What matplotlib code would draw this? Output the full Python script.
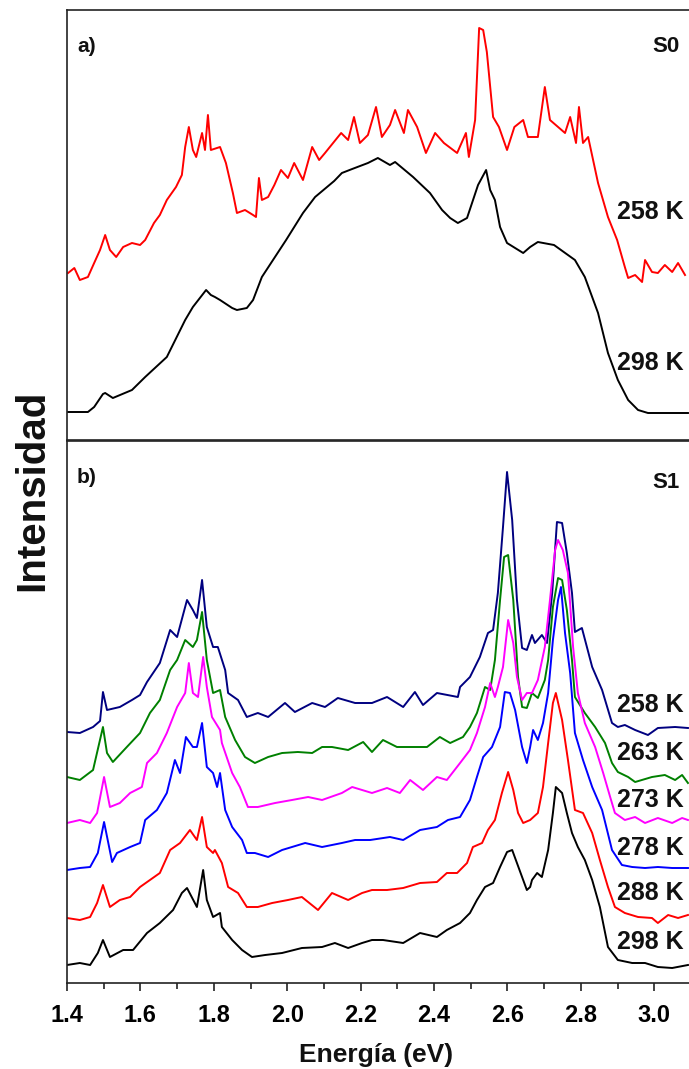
import matplotlib
matplotlib.use("Agg")
import matplotlib.pyplot as plt
from matplotlib.ticker import MultipleLocator
import numpy as np

# ---------------- Data ----------------
# Panel a) S0
a_298_E = [1.403, 1.457, 1.474, 1.498, 1.504, 1.525, 1.577, 1.613, 1.672, 1.722, 1.743, 1.779, 1.792,
           1.803, 1.817, 1.850, 1.863, 1.890, 1.907, 1.931, 1.997, 2.043, 2.076, 2.128, 2.149, 2.177,
           2.220, 2.247, 2.280, 2.294, 2.343, 2.389, 2.422, 2.444, 2.465, 2.490, 2.520, 2.542, 2.553,
           2.566, 2.580, 2.599, 2.643, 2.662, 2.683, 2.727, 2.784, 2.811, 2.847, 2.874, 2.901, 2.929,
           2.956, 2.983, 3.038, 3.092]
a_298_I = [28, 28, 33, 46, 47, 42, 50, 63, 83, 120, 133, 150, 145,
           143, 140, 132, 130, 132, 140, 163, 200, 227, 243, 259, 267, 271,
           277, 282, 275, 278, 263, 247, 230, 222, 217, 222, 255, 270, 250,
           240, 213, 197, 187, 193, 198, 195, 180, 163, 127, 87, 60, 40,
           30, 27, 27, 27]

a_258_E = [1.403, 1.420, 1.435, 1.457, 1.474, 1.490, 1.504, 1.517, 1.534, 1.553, 1.577, 1.599, 1.613,
           1.637, 1.653, 1.672, 1.697, 1.713, 1.722, 1.732, 1.743, 1.752, 1.768, 1.776, 1.784, 1.792,
           1.817, 1.833, 1.852, 1.863, 1.885, 1.907, 1.915, 1.923, 1.931, 1.948, 1.965, 1.983, 2.002,
           2.019, 2.043, 2.068, 2.087, 2.103, 2.147, 2.166, 2.182, 2.198, 2.220, 2.242, 2.258, 2.280,
           2.294, 2.318, 2.329, 2.354, 2.378, 2.403, 2.427, 2.463, 2.487, 2.495, 2.512, 2.523, 2.534,
           2.544, 2.561, 2.577, 2.599, 2.619, 2.643, 2.656, 2.683, 2.702, 2.716, 2.757, 2.771, 2.787,
           2.795, 2.806, 2.820, 2.847, 2.874, 2.899, 2.920, 2.929, 2.948, 2.967, 2.975, 2.994, 3.010,
           3.029, 3.049, 3.065, 3.084]
a_258_I = [167, 172, 160, 163, 177, 190, 205, 190, 183, 193, 197, 195, 200,
           217, 225, 240, 253, 265, 293, 313, 290, 283, 307, 290, 325, 290,
           293, 277, 247, 227, 230, 225, 223, 262, 240, 243, 255, 270, 262,
           277, 260, 293, 280, 287, 307, 300, 323, 297, 305, 333, 303, 315,
           330, 307, 330, 313, 287, 307, 297, 287, 307, 283, 320, 412, 410,
           388, 323, 313, 290, 313, 320, 303, 303, 353, 320, 307, 323, 297,
           333, 297, 303, 257, 223, 200, 173, 162, 165, 158, 180, 168, 167,
           175, 168, 177, 165]

# Panel b) S1
b_258_E = [1.400, 1.435, 1.471, 1.490, 1.498, 1.509, 1.544, 1.577, 1.599, 1.618, 1.653, 1.681, 1.700,
           1.727, 1.743, 1.754, 1.768, 1.781, 1.798, 1.811, 1.831, 1.839, 1.866, 1.890, 1.920, 1.948,
           1.994, 2.021, 2.068, 2.103, 2.138, 2.185, 2.231, 2.272, 2.316, 2.348, 2.370, 2.408, 2.465,
           2.471, 2.498, 2.525, 2.547, 2.561, 2.574, 2.588, 2.599, 2.613, 2.626, 2.640, 2.653, 2.667,
           2.675, 2.694, 2.708, 2.722, 2.735, 2.749, 2.762, 2.776, 2.784, 2.803, 2.831, 2.858, 2.885,
           2.901, 2.920, 2.948, 2.983, 3.010, 3.057, 3.092]
b_258_I = [251, 250, 256, 262, 291, 273, 276, 283, 288, 301, 320, 353, 346,
           383, 373, 365, 403, 356, 336, 336, 313, 290, 283, 266, 270, 266,
           280, 271, 280, 276, 285, 280, 280, 286, 276, 291, 278, 290, 286,
           296, 306, 326, 350, 353, 390, 456, 511, 463, 383, 335, 333, 348,
           340, 348, 340, 390, 461, 460, 430, 390, 351, 355, 316, 293, 260,
           256, 258, 253, 248, 255, 256, 255]

b_263_E = [1.400, 1.435, 1.471, 1.498, 1.509, 1.525, 1.563, 1.599, 1.626, 1.653, 1.681, 1.700, 1.722,
           1.743, 1.754, 1.768, 1.781, 1.798, 1.817, 1.831, 1.858, 1.885, 1.912, 1.948, 1.986, 2.029,
           2.068, 2.095, 2.122, 2.166, 2.207, 2.231, 2.261, 2.299, 2.343, 2.381, 2.416, 2.444, 2.479,
           2.498, 2.517, 2.539, 2.553, 2.566, 2.580, 2.591, 2.602, 2.616, 2.629, 2.640, 2.653, 2.667,
           2.683, 2.702, 2.711, 2.724, 2.738, 2.749, 2.762, 2.776, 2.784, 2.811, 2.839, 2.866, 2.885,
           2.901, 2.929, 2.948, 2.994, 3.029, 3.057, 3.076, 3.092]
b_263_I = [206, 203, 213, 256, 230, 221, 236, 250, 270, 283, 313, 323, 343,
           336, 343, 371, 323, 290, 293, 266, 243, 226, 220, 226, 230, 231,
           230, 236, 236, 233, 241, 231, 243, 236, 236, 236, 246, 240, 246,
           256, 270, 296, 293, 323, 383, 426, 428, 383, 306, 276, 275, 290,
           285, 303, 323, 376, 405, 403, 373, 323, 286, 270, 256, 240, 220,
           211, 206, 201, 206, 208, 203, 208, 200]

b_273_E = [1.400, 1.435, 1.463, 1.482, 1.501, 1.517, 1.544, 1.572, 1.604, 1.618, 1.645, 1.672, 1.700,
           1.722, 1.732, 1.743, 1.757, 1.771, 1.781, 1.795, 1.817, 1.822, 1.850, 1.871, 1.893, 1.920,
           1.967, 2.013, 2.057, 2.095, 2.149, 2.177, 2.204, 2.231, 2.272, 2.307, 2.335, 2.370, 2.408,
           2.435, 2.471, 2.498, 2.517, 2.539, 2.553, 2.566, 2.574, 2.588, 2.602, 2.616, 2.626, 2.640,
           2.653, 2.667, 2.683, 2.702, 2.716, 2.730, 2.738, 2.751, 2.765, 2.779, 2.792, 2.811, 2.839,
           2.861, 2.880, 2.893, 2.920, 2.948, 2.975, 3.010, 3.049, 3.076, 3.092]
b_273_I = [160, 163, 160, 170, 206, 176, 180, 190, 196, 220, 230, 250, 276,
           290, 320, 290, 286, 326, 296, 266, 253, 240, 210, 196, 176, 176,
           180, 183, 186, 183, 190, 196, 193, 190, 195, 190, 203, 193, 206,
           203, 220, 233, 250, 276, 300, 286, 296, 316, 363, 340, 306, 283,
           290, 290, 303, 336, 383, 433, 443, 433, 410, 336, 290, 260, 236,
           210, 186, 170, 163, 166, 160, 165, 160, 165, 163]

b_278_E = [1.400, 1.435, 1.463, 1.484, 1.501, 1.523, 1.536, 1.572, 1.599, 1.613, 1.645, 1.672, 1.694,
           1.708, 1.724, 1.743, 1.754, 1.768, 1.781, 1.798, 1.809, 1.817, 1.831, 1.850, 1.877, 1.890,
           1.912, 1.948, 1.986, 2.049, 2.095, 2.149, 2.185, 2.226, 2.280, 2.316, 2.362, 2.408, 2.438,
           2.471, 2.498, 2.517, 2.534, 2.558, 2.580, 2.593, 2.607, 2.621, 2.640, 2.653, 2.662, 2.670,
           2.683, 2.697, 2.711, 2.724, 2.738, 2.746, 2.757, 2.771, 2.784, 2.806, 2.831, 2.858, 2.885,
           2.912, 2.940, 2.975, 3.010, 3.049, 3.092]
b_278_I = [113, 115, 116, 130, 161, 121, 130, 136, 140, 163, 173, 190, 223,
           210, 246, 236, 236, 260, 216, 210, 196, 210, 173, 156, 143, 130,
           130, 126, 133, 140, 136, 140, 143, 143, 146, 143, 153, 156, 163,
           166, 183, 206, 226, 236, 256, 291, 290, 273, 236, 220, 236, 253,
           243, 260, 290, 343, 383, 396, 350, 310, 250, 223, 196, 173, 133,
           118, 116, 115, 116, 115, 115]

b_288_E = [1.400, 1.435, 1.463, 1.482, 1.498, 1.517, 1.544, 1.572, 1.599, 1.626, 1.653, 1.681, 1.708,
           1.735, 1.754, 1.768, 1.781, 1.798, 1.803, 1.822, 1.839, 1.866, 1.890, 1.920, 1.959, 2.002,
           2.040, 2.084, 2.122, 2.166, 2.204, 2.231, 2.272, 2.316, 2.362, 2.408, 2.435, 2.463, 2.490,
           2.506, 2.531, 2.547, 2.566, 2.585, 2.602, 2.616, 2.629, 2.643, 2.662, 2.683, 2.697, 2.711,
           2.724, 2.732, 2.749, 2.765, 2.784, 2.806, 2.831, 2.852, 2.874, 2.893, 2.920, 2.956, 2.994,
           3.010, 3.038, 3.065, 3.092]
b_288_I = [65, 63, 66, 80, 98, 76, 83, 86, 96, 103, 110, 133, 140,
           153, 143, 166, 136, 130, 133, 120, 96, 90, 76, 76, 80, 83,
           86, 73, 90, 83, 90, 93, 93, 95, 100, 101, 110, 110, 120,
           136, 140, 153, 163, 190, 211, 193, 170, 160, 163, 170, 196, 240,
           280, 290, 263, 223, 173, 170, 150, 123, 96, 76, 70, 66, 65,
           60, 68, 65, 68]

b_298_E = [1.400, 1.435, 1.463, 1.484, 1.498, 1.517, 1.553, 1.580, 1.618, 1.653, 1.689, 1.713, 1.727,
           1.754, 1.771, 1.781, 1.798, 1.817, 1.822, 1.850, 1.877, 1.904, 1.940, 1.986, 2.040, 2.095,
           2.130, 2.166, 2.204, 2.231, 2.261, 2.316, 2.362, 2.408, 2.435, 2.471, 2.498, 2.517, 2.539,
           2.561, 2.580, 2.599, 2.613, 2.626, 2.640, 2.653, 2.662, 2.667, 2.681, 2.694, 2.711, 2.724,
           2.732, 2.749, 2.762, 2.776, 2.792, 2.811, 2.831, 2.852, 2.874, 2.901, 2.940, 2.975, 3.010,
           3.049, 3.092]
b_298_I = [18, 20, 18, 30, 43, 26, 33, 33, 50, 60, 73, 90, 95,
           76, 113, 83, 66, 70, 56, 43, 33, 26, 28, 30, 35, 36,
           40, 35, 40, 43, 43, 40, 50, 46, 53, 60, 70, 83, 96,
           100, 116, 131, 133, 120, 106, 93, 96, 103, 110, 106, 133, 170,
           196, 190, 170, 150, 136, 123, 103, 76, 36, 23, 20, 20, 16,
           15, 18]

a_labels = ["258 K", "298 K"]
b_labels = ["258 K", "263 K", "273 K", "278 K", "288 K", "298 K"]
x_ticks = [1.4, 1.6, 1.8, 2.0, 2.2, 2.4, 2.6, 2.8, 3.0]
x_ticklabels = ["1.4", "1.6", "1.8", "2.0", "2.2", "2.4", "2.6", "2.8", "3.0"]

# ---------------- Figure ----------------
W, H = 689, 1069
fig = plt.figure(figsize=(W / 100, H / 100), dpi=100)

FAM = ["Liberation Sans", "DejaVu Sans"]

def fx(px):
    return px / W

def fy(py):
    return 1 - py / H

left = fx(67)
axA = fig.add_axes([left, fy(440), 1.0 - left, (440 - 10) / H])
axB = fig.add_axes([left, fy(983), 1.0 - left, (983 - 441) / H])

lw = 1.4
axA.plot(a_258_E, a_258_I, color="#ff0000", lw=lw)
axA.plot(a_298_E, a_298_I, color="#000000", lw=lw)

b_series = [(b_258_E, b_258_I, "#000080"), (b_263_E, b_263_I, "#008000"),
            (b_273_E, b_273_I, "#ff00ff"), (b_278_E, b_278_I, "#0000ff"),
            (b_288_E, b_288_I, "#ff0000"), (b_298_E, b_298_I, "#000000")]
for E, I, c in b_series:
    axB.plot(E, I, color=c, lw=lw)

xmax = 1.4 + (689 - 67) / 367.0
for ax in (axA, axB):
    ax.set_xlim(1.4, xmax)
    ax.spines["right"].set_visible(False)
    for s in ("left", "top", "bottom"):
        ax.spines[s].set_linewidth(1.2)
        ax.spines[s].set_color("#222222")
    ax.set_yticks([])

axA.set_ylim(0, 430)
axB.set_ylim(0, 542)
axA.set_xticks([])
axA.tick_params(axis="x", which="both", bottom=False, labelbottom=False)

axB.set_xticks(x_ticks)
axB.set_xticklabels(x_ticklabels)
axB.xaxis.set_minor_locator(MultipleLocator(0.1))
axB.tick_params(axis="x", which="major", direction="out", length=6, width=1.2, pad=9, color="#222222")
axB.tick_params(axis="x", which="minor", direction="out", length=4, width=1.2, color="#222222")
for lab in axB.get_xticklabels():
    lab.set_fontfamily(FAM)
    lab.set_fontweight("bold")
    lab.set_fontsize(17)

# panel texts
txt_kw = dict(family=FAM, fontweight="bold", color="#111111")
axA.text(0.016, 0.914, "a)", transform=axA.transAxes, ha="left", va="center", fontsize=15, **txt_kw)
axA.text(0.985, 0.914, "S0", transform=axA.transAxes, ha="right", va="center", fontsize=16, **txt_kw)
axB.text(0.016, 0.932, "b)", transform=axB.transAxes, ha="left", va="center", fontsize=15, **txt_kw)
axB.text(0.985, 0.924, "S1", transform=axB.transAxes, ha="right", va="center", fontsize=16, **txt_kw)

a_label_y = [0.530, 0.179]
for lab, yy in zip(a_labels, a_label_y):
    axA.text(0.992, yy, lab, transform=axA.transAxes, ha="right", va="center", fontsize=18, **txt_kw)

b_label_y = [0.513, 0.424, 0.338, 0.249, 0.166, 0.076]
for lab, yy in zip(b_labels, b_label_y):
    axB.text(0.992, yy, lab, transform=axB.transAxes, ha="right", va="center", fontsize=18, **txt_kw)

fig.text(fx(376), fy(1055), "Energía (eV)", ha="center", va="center", fontsize=19, **txt_kw)
fig.text(fx(32), fy(490), "Intensidad", ha="center", va="center", rotation=90,
         family=FAM, fontweight="bold", fontsize=29, color="#111111")

fig.savefig("out.png", dpi=100)
